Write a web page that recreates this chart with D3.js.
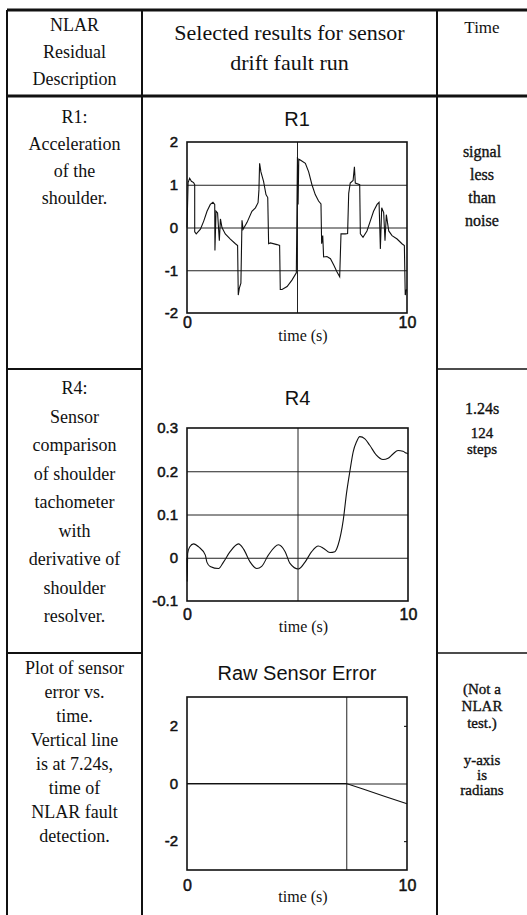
<!DOCTYPE html>
<html>
<head>
<meta charset="utf-8">
<script src="https://cdnjs.cloudflare.com/ajax/libs/d3/7.8.5/d3.min.js"></script>
<style>
  body { margin: 0; background: #fff; }
  svg { display: block; }
</style>
</head>
<body>
<svg id="chart" width="527" height="915"></svg>
<script>

//header texts of the table
var headDesc = ["NLAR", "Residual", "Description"];
var headPlot = ["Selected results for sensor", "drift fault run"];
var headTime = ["Time"];

//description column, one list per row
var descR1 = ["R1:", "Acceleration", "of the", "shoulder."];
var descR4 = ["R4:", "Sensor", "comparison", "of shoulder", "tachometer", "with", "derivative of", "shoulder", "resolver."];
var descRaw = ["Plot of sensor", "error vs.", "time.", "Vertical line", "is at 7.24s,", "time of", "NLAR fault", "detection."];

//time column, one list per row
var timeR1 = ["signal", "less", "than", "noise"];
var timeR4a = ["1.24s"];
var timeR4b = ["124", "steps"];
var timeRawA = ["(Not a", "NLAR", "test.)"];
var timeRawB = ["y-axis", "is", "radians"];

//R1 residual (time in s)
var r1Time = [0, 0.05, 0.12, 0.2, 0.3, 0.35, 0.35, 0.42, 0.61, 0.76, 0.91, 1.06, 1.18, 1.26, 1.27, 1.32, 1.39, 1.47, 1.52, 1.59,
  1.74, 1.97, 2.20, 2.30, 2.33, 2.38, 2.45, 2.50, 2.55, 2.73, 2.95, 3.11, 3.23, 3.27, 3.30, 3.36, 3.48, 3.59, 3.67, 3.71,
  3.79, 4.09, 4.21, 4.24, 4.32, 4.55, 4.77, 4.97, 5.02, 5.05, 5.08, 5.15, 5.38, 5.53, 5.68, 5.83, 5.98, 6.09, 6.12, 6.17,
  6.21, 6.36, 6.52, 6.67, 6.82, 6.94, 7.00, 7.20, 7.30, 7.35, 7.42, 7.55, 7.61, 7.65, 7.85, 7.88, 8.00, 8.18, 8.33, 8.48,
  8.64, 8.73, 8.79, 8.85, 8.94, 9.00, 9.06, 9.17, 9.32, 9.55, 9.77, 9.88, 9.92, 9.97, 10.0];
var r1Value = [0, 1.05, 1.15, 1.08, 1.05, 1.0, -0.1, -0.15, -0.04, 0.15, 0.38, 0.54, 0.59, 0.54, -0.54, 0.38, 0.34, -0.31, 0.2, 0.0,
  -0.15, -0.27, -0.38, -0.42, -1.58, -1.42, -1.3, 0.17, -0.04, 0.12, 0.38, 0.46, 0.58, 0.88, 1.5, 1.3, 1.08, 0.77, 0.7, -0.38,
  -0.36, -0.4, -0.42, -1.45, -1.45, -1.38, -1.23, -1.06, 1.65, 0.54, 1.6, 1.58, 1.5, 1.3, 1.0, 0.77, 0.62, 0.55, -0.38, -0.19,
  -0.69, -0.68, -0.73, -0.88, -1.04, -1.15, -0.15, -0.15, -0.14, 0.8, 1.04, 1.1, 1.42, 1.04, 1.0, -0.15, -0.23, -0.08, 0.15, 0.38,
  0.54, 0.59, -0.5, 0.46, 0.35, -0.31, 0.3, -0.08, -0.19, -0.27, -0.38, -0.42, -1.58, -1.46, -1.46];

//R4 residual
var r4Time = [0, 0.01, 0.03, 0.12, 0.30, 0.53, 0.83, 0.90, 1.05, 1.43, 1.65, 1.95, 2.33, 2.56, 2.86, 3.16, 3.38, 3.68, 4.14, 4.44,
  4.66, 5.04, 5.34, 5.64, 5.94, 6.17, 6.47, 6.69, 6.84, 7.07, 7.22, 7.37, 7.52, 7.67, 7.82, 8.05, 8.27, 8.57, 8.87, 9.10,
  9.32, 9.55, 9.77, 9.92, 10.0];
var r4Value = [0, -0.055, 0.01, 0.025, 0.032, 0.025, 0.006, -0.01, -0.02, -0.025, -0.01, 0.014, 0.032, 0.02, -0.01, -0.025, -0.02, 0.006, 0.03, 0.014,
  -0.013, -0.026, -0.01, 0.014, 0.027, 0.022, 0.012, 0.014, 0.03, 0.087, 0.15, 0.2, 0.245, 0.268, 0.28, 0.275, 0.26, 0.237, 0.227, 0.23,
  0.24, 0.248, 0.246, 0.242, 0.24];

//raw sensor error (radians)
var rawTime = [0, 7.24, 8, 9, 10];
var rawValue = [0, 0, -0.19, -0.45, -0.7];
var faultTime = 7.24;

//tick labels
var xTicks = [0, 10];
var r1Ticks = [-2, -1, 0, 1, 2];
var r4Ticks = [-0.1, 0, 0.1, 0.2, 0.3];
var rawTicks = [-2, 0, 2];

var serif = "'Liberation Serif', 'Times New Roman', serif";
var sans = "'Liberation Sans', Arial, sans-serif";

var svg = d3.select("#chart");

//table grid
var colX = [7, 142, 437, 527];
var rowY = [10, 96, 369, 653, 915];

var rules = svg.append("g").attr("stroke", "#111");

rules.append("line").attr("x1", colX[0]).attr("x2", colX[3]).attr("y1", rowY[0]).attr("y2", rowY[0]).attr("stroke-width", 3);
rules.append("line").attr("x1", colX[0]).attr("x2", colX[3]).attr("y1", rowY[1]).attr("y2", rowY[1]).attr("stroke-width", 3);

[colX[0], colX[1], colX[2]].forEach(function(x) {
  rules.append("line").attr("x1", x).attr("x2", x).attr("y1", rowY[0]).attr("y2", rowY[4]).attr("stroke-width", 2);
});

//row rules only in the first and last column
[rowY[2], rowY[3]].forEach(function(y) {
  rules.append("line").attr("x1", colX[0]).attr("x2", colX[1]).attr("y1", y).attr("y2", y).attr("stroke-width", 2);
  rules.append("line").attr("x1", colX[2]).attr("x2", colX[3]).attr("y1", y).attr("y2", y).attr("stroke-width", 1.5);
});

//writes a centred block of lines
function textBlock(lines, cx, y0, step, size, family, heavy) {
  svg.append("g")
    .selectAll("text")
    .data(lines)
    .enter()
    .append("text")
    .attr("x", cx)
    .attr("y", function(d, i) { return y0 + i * step; })
    .attr("dy", "0.35em")
    .attr("text-anchor", "middle")
    .attr("font-family", family)
    .attr("font-size", size)
    .attr("fill", "#111")
    .attr("stroke", heavy ? "#111" : "none")
    .attr("stroke-width", heavy ? 0.35 : 0)
    .text(function(d) { return d; });
}

var c1 = (colX[0] + colX[1]) / 2;
var c2 = (colX[1] + colX[2]) / 2;
var c3 = (colX[2] + colX[3]) / 2;

textBlock(headDesc, c1, 25, 27, 18, serif);
textBlock(headPlot, c2, 32, 30, 22, serif);
textBlock(headTime, c3, 27, 20, 17, serif);

textBlock(descR1, c1, 117, 27, 18, serif);
textBlock(descR4, c1, 388, 28.5, 18, serif);
textBlock(descRaw, c1, 668, 24, 18, serif);

textBlock(timeR1, c3, 151, 23, 16, serif, true);
textBlock(timeR4a, c3, 408, 20, 16, serif, true);
textBlock(timeR4b, c3, 433, 16, 15, serif, true);
textBlock(timeRawA, c3, 689, 17, 15, serif, true);
textBlock(timeRawB, c3, 760, 15, 15, serif, true);

//draws one plot panel
function drawPanel(p) {
  var w = p.right - p.left;
  var h = p.bottom - p.top;

  var g = svg.append("g")
    .attr("transform", "translate(" + p.left + "," + p.top + ")");

  var xScale = d3.scaleLinear().domain([0, 10]).range([0, w]);
  var yScale = d3.scaleLinear().domain(p.yDomain).range([h, 0]);

  //horizontal grid lines
  g.append("g")
    .call(d3.axisLeft(yScale).tickValues(p.gridY).tickSize(-w).tickFormat(""))
    .call(function(a) { a.select(".domain").remove(); })
    .selectAll("line")
    .attr("stroke", "#222")
    .attr("stroke-width", 1);

  //vertical grid line
  g.append("g")
    .call(d3.axisBottom(xScale).tickValues([p.gridX]).tickSize(h).tickFormat(""))
    .call(function(a) { a.select(".domain").remove(); })
    .selectAll("line")
    .attr("stroke", "#222")
    .attr("stroke-width", 1);

  //small ticks on the right edge
  if (p.edgeTicks) {
    g.append("g")
      .attr("transform", "translate(" + w + ",0)")
      .call(d3.axisRight(yScale).tickValues(p.edgeTicks).tickSize(-3).tickFormat(""))
      .call(function(a) { a.select(".domain").remove(); });
  }

  var line = d3.line()
    .x(function(d) { return xScale(d[0]); })
    .y(function(d) { return yScale(d[1]); })
    .curve(p.curve || d3.curveLinear);

  g.append("path")
    .datum(d3.zip(p.t, p.v))
    .attr("d", line)
    .attr("fill", "none")
    .attr("stroke", "#111")
    .attr("stroke-width", 1.1);

  //frame
  g.append("rect")
    .attr("width", w)
    .attr("height", h)
    .attr("fill", "none")
    .attr("stroke", "#111")
    .attr("stroke-width", 1.6);

  //y axis labels
  var yAxis = g.append("g")
    .call(d3.axisLeft(yScale).tickValues(p.yTicks).tickSize(0).tickPadding(9)
      .tickFormat(function(d) { return String(d); }));
  yAxis.select(".domain").remove();
  yAxis.selectAll("text")
    .attr("font-family", sans)
    .attr("font-size", 15)
    .attr("fill", "#111")
    .attr("stroke", "#111")
    .attr("stroke-width", 0.5);

  //x axis labels
  var xAxis = g.append("g")
    .attr("transform", "translate(0," + h + ")")
    .call(d3.axisBottom(xScale).tickValues(xTicks).tickSize(0).tickPadding(p.xPad));
  xAxis.select(".domain").remove();
  xAxis.selectAll("text")
    .attr("font-family", sans)
    .attr("font-size", 16)
    .attr("fill", "#111")
    .attr("stroke", "#111")
    .attr("stroke-width", 0.5);

  g.append("text")
    .attr("x", w / 2 + 6)
    .attr("y", h + p.labelOff)
    .attr("dy", "0.35em")
    .attr("text-anchor", "middle")
    .attr("font-family", serif)
    .attr("font-size", 16)
    .attr("fill", "#111")
    .text("time (s)");

  g.append("text")
    .attr("x", w / 2)
    .attr("y", p.titleY - p.top)
    .attr("dy", "0.35em")
    .attr("text-anchor", "middle")
    .attr("font-family", sans)
    .attr("font-size", 20)
    .attr("fill", "#111")
    .text(p.title);
}

drawPanel({
  title: "R1", titleY: 119, left: 187, right: 407, top: 142, bottom: 313,
  yDomain: [-2, 2], yTicks: r1Ticks, gridY: [-1, 0, 1], gridX: 5,
  t: r1Time, v: r1Value, xPad: 4, labelOff: 22
});

drawPanel({
  title: "R4", titleY: 398, left: 187, right: 408, top: 428, bottom: 601,
  yDomain: [-0.1, 0.3], yTicks: r4Ticks, gridY: [0, 0.1, 0.2], gridX: 5,
  t: r4Time, v: r4Value, xPad: 8, labelOff: 25, curve: d3.curveMonotoneX
});

drawPanel({
  title: "Raw Sensor Error", titleY: 673, left: 187, right: 407, top: 697, bottom: 870,
  yDomain: [-3, 3], yTicks: rawTicks, gridY: [0], gridX: faultTime, edgeTicks: [-2, 2],
  t: rawTime, v: rawValue, xPad: 10, labelOff: 26
});

</script>
</body>
</html>
